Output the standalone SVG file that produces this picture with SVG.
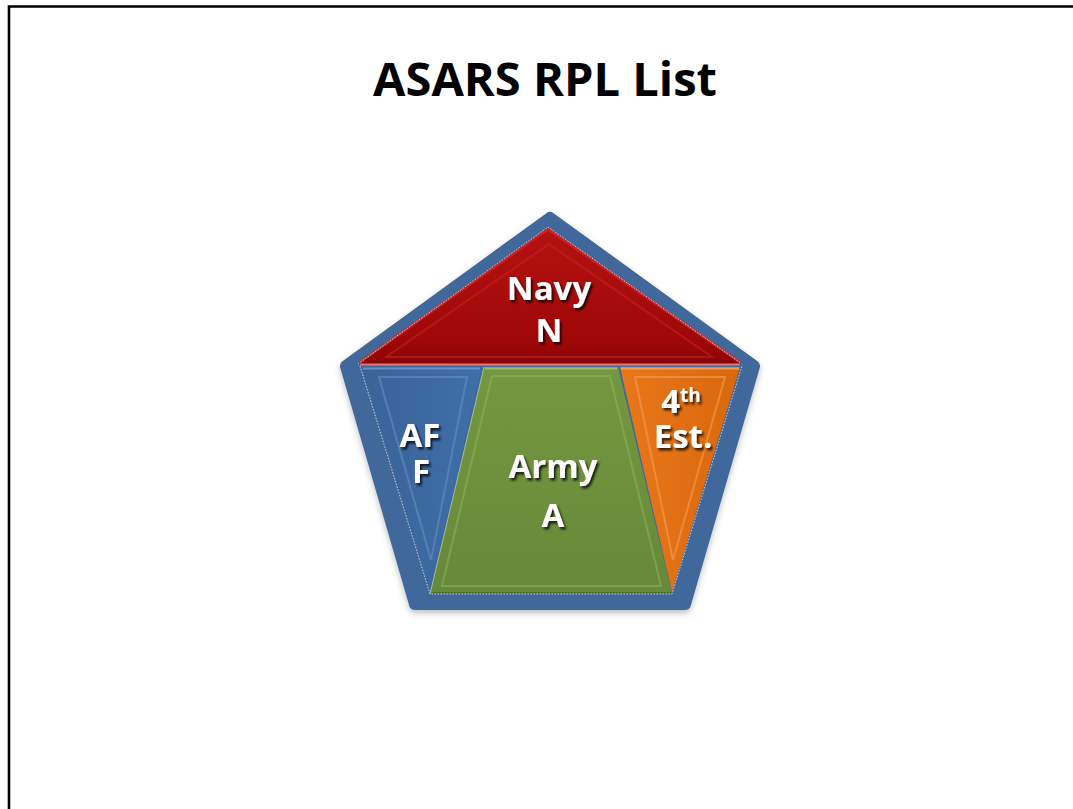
<svg xmlns="http://www.w3.org/2000/svg" width="1073" height="809" viewBox="0 0 1073 809">
  <style>
    .title { font-family: "Open Sans", "Liberation Sans", sans-serif; font-weight: bold; font-size: 47px; fill: #000; }
    .lbl { font-family: "Open Sans", "Liberation Sans", sans-serif; font-weight: bold; font-size: 33px; fill: #fff; text-anchor: middle; filter: url(#txtShadow); }
    .sup { font-size: 19px; }
    .bevel { fill: none; stroke-width: 2; stroke-opacity: 0.55; }
    .seam { fill: none; stroke: #e8eef6; stroke-width: 1; stroke-dasharray: 1.5 1.5; stroke-opacity: 0.8; }
  </style>
  <defs>
    <filter id="txtShadow" x="-20%" y="-20%" width="150%" height="160%">
      <feDropShadow dx="2" dy="2.5" stdDeviation="1.2" flood-color="#000" flood-opacity="0.75"/>
    </filter>
    <filter id="softShadow" x="-10%" y="-10%" width="120%" height="125%">
      <feDropShadow dx="0" dy="3" stdDeviation="3" flood-color="#000" flood-opacity="0.25"/>
    </filter>
    <linearGradient id="gRed" x1="0" y1="0" x2="0" y2="1">
      <stop offset="0" stop-color="#b51212"/>
      <stop offset="0.85" stop-color="#9f0707"/>
      <stop offset="1" stop-color="#880505"/>
    </linearGradient>
    <linearGradient id="gBlue" x1="0" y1="0" x2="1" y2="0">
      <stop offset="0" stop-color="#3a6399"/>
      <stop offset="1" stop-color="#3f6ea8"/>
    </linearGradient>
    <linearGradient id="gGreen" x1="0" y1="0" x2="0" y2="1">
      <stop offset="0" stop-color="#74983f"/>
      <stop offset="1" stop-color="#66893a"/>
    </linearGradient>
    <linearGradient id="gOrange" x1="0" y1="0" x2="1" y2="0">
      <stop offset="0" stop-color="#e9771a"/>
      <stop offset="1" stop-color="#d9680d"/>
    </linearGradient>
  </defs>

  <rect width="1073" height="809" fill="#fff"/>
  <!-- page frame (open to the right and bottom) -->
  <path d="M9 809 V6.5 H1073" fill="none" stroke="#000" stroke-width="2.6"/>

  <text class="title" x="545" y="96" text-anchor="middle">ASARS RPL List</text>

  <!-- pentagon frame -->
  <g id="frame" filter="url(#softShadow)">
    <polygon points="550,218 754,366 685,604 415,604 346,366" fill="#40679a" stroke="#40679a" stroke-width="12" stroke-linejoin="round"/>
  </g>

  <!-- Navy -->
  <g id="navy">
    <polygon points="548,228 742,364 358,364" fill="url(#gRed)"/>
    <polyline points="360,362 548,229 740,362" fill="none" stroke="#d52a2a" stroke-width="3" stroke-opacity="0.7"/>
    <polygon class="bevel" points="549,244 712,357 386,357" stroke="#c42424"/>
    <line x1="360" y1="364.5" x2="740" y2="364.5" stroke="#e07a7a" stroke-width="2"/>
    <text class="lbl" x="549" y="300">Navy<tspan x="549" dy="42">N</tspan></text>
  </g>

  <!-- Air Force -->
  <g id="af">
    <polygon points="362,367 481,367 430,592" fill="url(#gBlue)"/>
    <polygon class="bevel" points="379,377 467,377 431,560" stroke="#6c92c4"/>
    <line x1="363" y1="368.5" x2="480" y2="368.5" stroke="#7fa3d2" stroke-width="2" stroke-opacity="0.7"/>
    <text class="lbl" x="420" y="447">AF<tspan x="421" dy="36">F</tspan></text>
  </g>

  <!-- Army -->
  <g id="army">
    <polygon points="484,367 618,367 672,594 430,594" fill="url(#gGreen)"/>
    <polygon class="bevel" points="492,376 610,376 661,586 442,586" stroke="#8fb25c"/>
    <line x1="485" y1="368.5" x2="617" y2="368.5" stroke="#a4c472" stroke-width="2" stroke-opacity="0.8"/>
    <line x1="430" y1="593" x2="672" y2="593" stroke="#4a6628" stroke-width="2" stroke-opacity="0.7"/>
    <line x1="484" y1="367" x2="430" y2="594" stroke="#c9d9b0" stroke-width="1" stroke-opacity="0.7"/>
    <text class="lbl" x="553" y="478">Army<tspan x="553" dy="49">A</tspan></text>
  </g>

  <!-- Fourth Estate -->
  <g id="fourth">
    <polygon points="620,367 740,367 672,592" fill="url(#gOrange)"/>
    <polygon class="bevel" points="635,377 725,377 673,560" stroke="#f4a35c"/>
    <line x1="621" y1="368.5" x2="739" y2="368.5" stroke="#f6a868" stroke-width="2" stroke-opacity="0.8"/>
    <text class="lbl" x="681" y="413">4<tspan class="sup" dy="-11">th</tspan><tspan x="683" dy="46">Est.</tspan></text>
  </g>

  <!-- light seam between the frame and the inner pieces -->
  <g id="seams">
    <polyline class="seam" points="358,364 548,227 742,364"/>
    <polyline class="seam" points="360,366 430,594 672,594 742,366"/>
  </g>
</svg>
